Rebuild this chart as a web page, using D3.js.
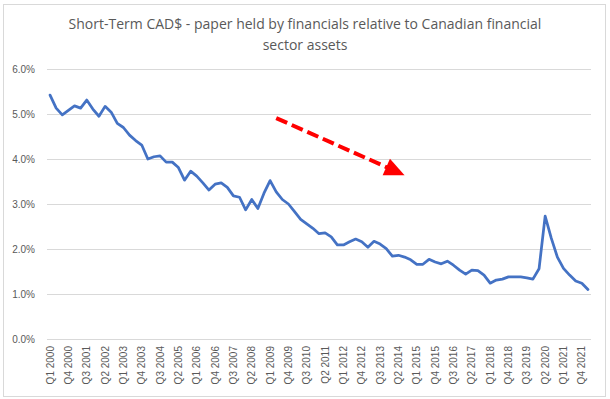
<!DOCTYPE html>
<html lang="en">
<head>
<meta charset="utf-8">
<title>Short-Term CAD$ paper</title>
<script src="https://cdn.jsdelivr.net/npm/d3@7"></script>
<style>
  body { margin: 0; background: #fff; }
  .grid line { stroke: #d9d9d9; stroke-width: 1px; }
  .tick-label { font-family: "Liberation Sans", Arial, sans-serif; font-size: 10px; fill: #595959; }
  .title { font-family: "Open Sans", sans-serif; font-size: 14px; fill: #595959; }
</style>
</head>
<body>
<div id="chart"></div>
<script>
  var width = 610,
      height = 399;

  // quarters Q1 2000 .. Q1 2022
  var years = d3.range(2000, 2023);
  var quarters = [];
  years.forEach(function(y) {
    [1, 2, 3, 4].forEach(function(q) {
      if (y < 2022 || q === 1) quarters.push("Q" + q + " " + y);
    });
  });

  // share of financial sector assets, %
  var values = [
    5.42, 5.13, 4.98, 5.08, 5.18, 5.13, 5.31, 5.11, 4.95, 5.17,
    5.04, 4.79, 4.70, 4.53, 4.41, 4.31, 4.00, 4.05, 4.07, 3.93,
    3.93, 3.81, 3.53, 3.73, 3.62, 3.47, 3.31, 3.44, 3.47, 3.37,
    3.18, 3.15, 2.87, 3.10, 2.90, 3.24, 3.52, 3.27, 3.10, 3.00,
    2.83, 2.66, 2.56, 2.46, 2.34, 2.36, 2.27, 2.09, 2.09, 2.16,
    2.22, 2.16, 2.04, 2.17, 2.11, 2.01, 1.84, 1.86, 1.82, 1.76,
    1.66, 1.66, 1.77, 1.71, 1.67, 1.73, 1.64, 1.53, 1.44, 1.53,
    1.52, 1.42, 1.24, 1.31, 1.33, 1.38, 1.38, 1.38, 1.36, 1.33,
    1.56, 2.73, 2.24, 1.82, 1.57, 1.42, 1.29, 1.24, 1.10
  ];

  var yTicks = [0, 1, 2, 3, 4, 5, 6];

  // trend arrow, in data terms: [quarter, value]
  var arrowStart = ["Q2 2009", 4.91];
  var arrowEnd = ["Q3 2014", 3.64];

  var data = quarters.map(function(q, i) { return { q: q, v: values[i] }; });

  var svg = d3.select("#chart")
    .append("svg")
      .attr("width", width)
      .attr("height", height);

  svg.append("rect")
      .attr("x", 3.5).attr("y", 4.5)
      .attr("width", 602).attr("height", 392)
      .attr("fill", "#fff")
      .attr("stroke", "#d9d9d9");

  var x = d3.scaleBand()
      .domain(quarters)
      .range([47, 591])
      .padding(0);

  var y = d3.scaleLinear()
      .domain([0, 6])
      .range([339, 69]);

  function cx(q) { return x(q) + x.bandwidth() / 2; }

  svg.append("g")
      .attr("class", "grid")
    .selectAll("line")
    .data(yTicks)
    .enter().append("line")
      .attr("x1", 47).attr("x2", 591)
      .attr("y1", function(d) { return Math.round(y(d)) + 0.5; })
      .attr("y2", function(d) { return Math.round(y(d)) + 0.5; });

  svg.append("g")
    .selectAll("text")
    .data(yTicks)
    .enter().append("text")
      .attr("class", "tick-label")
      .attr("x", 35)
      .attr("y", function(d) { return y(d); })
      .attr("dy", "0.35em")
      .attr("text-anchor", "end")
      .text(function(d) { return d3.format(".1f")(d) + "%"; });

  svg.append("g")
    .selectAll("text")
    .data(quarters.filter(function(d, i) { return i % 3 === 0; }))
    .enter().append("text")
      .attr("class", "tick-label")
      .attr("transform", function(d) { return "translate(" + cx(d) + ",346) rotate(-90)"; })
      .attr("dy", "0.35em")
      .attr("text-anchor", "end")
      .text(function(d) { return d; });

  var line = d3.line()
      .x(function(d) { return cx(d.q); })
      .y(function(d) { return y(d.v); });

  svg.append("path")
      .datum(data)
      .attr("fill", "none")
      .attr("stroke", "#4472c4")
      .attr("stroke-width", 2.75)
      .attr("stroke-linejoin", "round")
      .attr("stroke-linecap", "round")
      .attr("d", line);

  // red dashed arrow
  var x0 = cx(arrowStart[0]), y0 = y(arrowStart[1]),
      x1 = cx(arrowEnd[0]), y1 = y(arrowEnd[1]);
  var ang = Math.atan2(y1 - y0, x1 - x0),
      headLen = 20, headW = 9;
  var bx = x1 - headLen * Math.cos(ang), by = y1 - headLen * Math.sin(ang);

  svg.append("line")
      .attr("x1", x0).attr("y1", y0)
      .attr("x2", bx + 2 * Math.cos(ang)).attr("y2", by + 2 * Math.sin(ang))
      .attr("stroke", "#ff0000")
      .attr("stroke-width", 4)
      .attr("stroke-dasharray", "12,5");

  svg.append("polygon")
      .attr("points", [
        [x1, y1],
        [bx + headW * Math.sin(ang), by - headW * Math.cos(ang)],
        [bx - headW * Math.sin(ang), by + headW * Math.cos(ang)]
      ].map(function(p) { return p.join(","); }).join(" "))
      .attr("fill", "#ff0000");

  var title = svg.append("text")
      .attr("class", "title")
      .attr("text-anchor", "middle");
  title.append("tspan").attr("x", 305).attr("y", 29)
      .text("Short-Term CAD$ - paper held by financials relative to Canadian financial");
  title.append("tspan").attr("x", 305).attr("y", 50)
      .text("sector assets");
</script>
</body>
</html>
